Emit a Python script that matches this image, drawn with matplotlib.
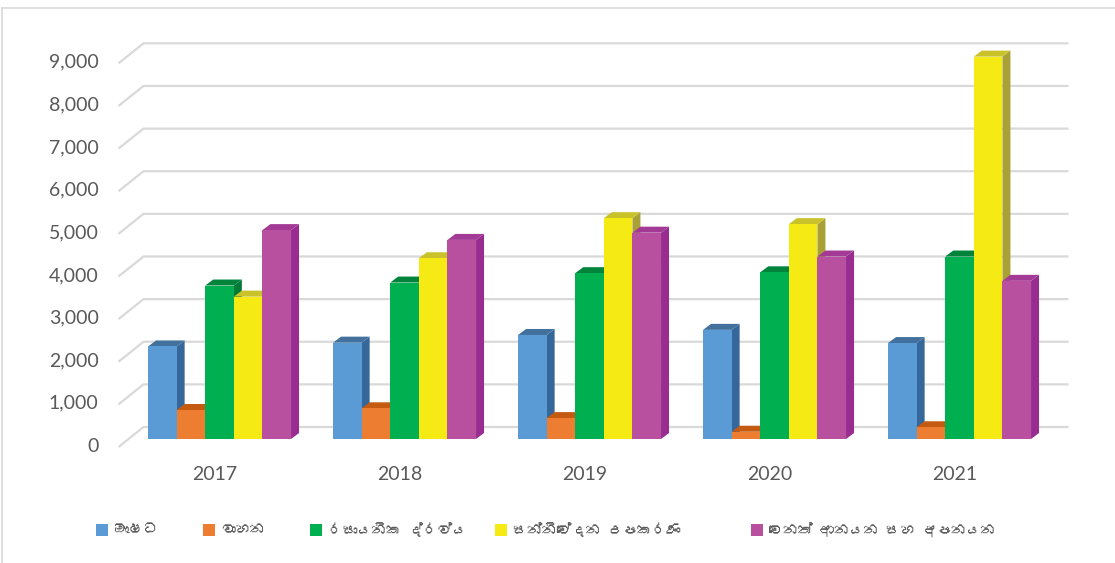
import matplotlib
matplotlib.use("Agg")
import matplotlib.pyplot as plt
from matplotlib import font_manager
from matplotlib.ft2font import FT2Font
from matplotlib.patches import Polygon, Rectangle

years = ["2017", "2018", "2019", "2020", "2021"]
series_names = ["ඖෂධ", "වාහන", "රසායනික ද්රව්ය", "සන්නිවේදන උපකරණ", "වෙනත් ආනයන සහ අපනයන"]
medicine = [2170, 2260, 2440, 2560, 2250]
vehicles = [680, 720, 490, 170, 275]
chemicals = [3600, 3670, 3890, 3910, 4280]
telecom = [3340, 4240, 5180, 5040, 8970]
other = [4900, 4670, 4840, 4280, 3710]
yticks = [0, 1000, 2000, 3000, 4000, 5000, 6000, 7000, 8000, 9000]

series = [medicine, vehicles, chemicals, telecom, other]
front_c = ["#5b9bd5", "#ed7d31", "#00b050", "#f5ea14", "#b9509f"]
side_c = ["#36679a", "#b8561a", "#007a37", "#a9a136", "#982c90"]
top_c = ["#41719c", "#c55a11", "#00843c", "#c9c22a", "#a33a96"]

# find a font with Sinhala glyphs, if any
sinhala_font = None
for f in font_manager.fontManager.ttflist:
    try:
        cm = FT2Font(f.fname).get_charmap()
        if 0x0D85 in cm and 0x0DC3 in cm:
            sinhala_font = f.name
            break
    except Exception:
        pass

W, H = 1115, 563
fig = plt.figure(figsize=(W / 100, H / 100), dpi=100)
ax = fig.add_axes([0, 0, 1, 1])
px_cat = 185.0          # pixels per category
px_val = 0.04263        # pixels per value unit
x_c0 = 215.0            # pixel x of first category centre
y_base = 439.0          # pixel y (from top) of bar baseline
ax.set_xlim(-x_c0 / px_cat, (W - x_c0) / px_cat)
ax.set_ylim((y_base - H) / px_val, y_base / px_val)
ax.axis("off")

def dx(p):
    return p / px_cat

def dy(p):
    return p / px_val

grid_col = "#d9d9d9"
text_col = "#595959"
left_front = -0.5 - dx(4)
left_back = -0.5 + dx(21)
right_back = 4.5 + dx(21)
for v in yticks:
    ax.plot([left_front, left_back, right_back],
            [v - dy(8), v + dy(12), v + dy(12)],
            color=grid_col, lw=1.6, solid_capstyle="butt", zorder=1)
    ax.text(-0.5 - dx(24), v - dy(7), f"{v:,}", ha="right", va="center",
            fontsize=14, color=text_col, family="Lato")

bw = 0.1546
start = -0.362
ddx, ddy = dx(8), dy(6)
z = 2
for i in range(len(years)):
    for s, vals in enumerate(series):
        v = vals[i]
        xl = i + start + s * bw
        xr = xl + bw
        side = Polygon([(xr, 0), (xr, v), (xr + ddx, v + ddy), (xr + ddx, ddy)],
                       closed=True, facecolor=side_c[s], edgecolor="none", zorder=z)
        top = Polygon([(xl, v), (xr, v), (xr + ddx, v + ddy), (xl + ddx, v + ddy)],
                      closed=True, facecolor=top_c[s], edgecolor="none", zorder=z)
        front = Rectangle((xl, 0), bw, v, facecolor=front_c[s], edgecolor="none", zorder=z)
        ax.add_patch(side)
        ax.add_patch(top)
        ax.add_patch(front)
        z += 1

for i, yr in enumerate(years):
    ax.text(i, -dy(35), yr, ha="center", va="center", fontsize=14,
            color=text_col, family="Lato")

# legend
leg_fam = [sinhala_font, "DejaVu Sans"] if sinhala_font else ["DejaVu Sans"]
leg_x_px = [96, 203, 310, 495, 751]
for s, name in enumerate(series_names):
    xs = (leg_x_px[s] - x_c0) / px_cat
    yv = (y_base - 530) / px_val
    ax.add_patch(Rectangle((xs, yv - dy(6)), dx(12), dy(12), facecolor=front_c[s],
                           edgecolor="none", zorder=50))
    ax.text(xs + dx(18), yv, name, ha="left", va="center", fontsize=10.5,
            color=text_col, family=leg_fam)

# chart border
fig.add_artist(plt.Line2D([2 / W, 2 / W], [0, 1 - 8 / H], color="#d9d9d9", lw=1.2))
fig.add_artist(plt.Line2D([2 / W, 1], [1 - 8 / H, 1 - 8 / H], color="#d9d9d9", lw=1.2))

fig.savefig("out.png", dpi=100, facecolor="white")
